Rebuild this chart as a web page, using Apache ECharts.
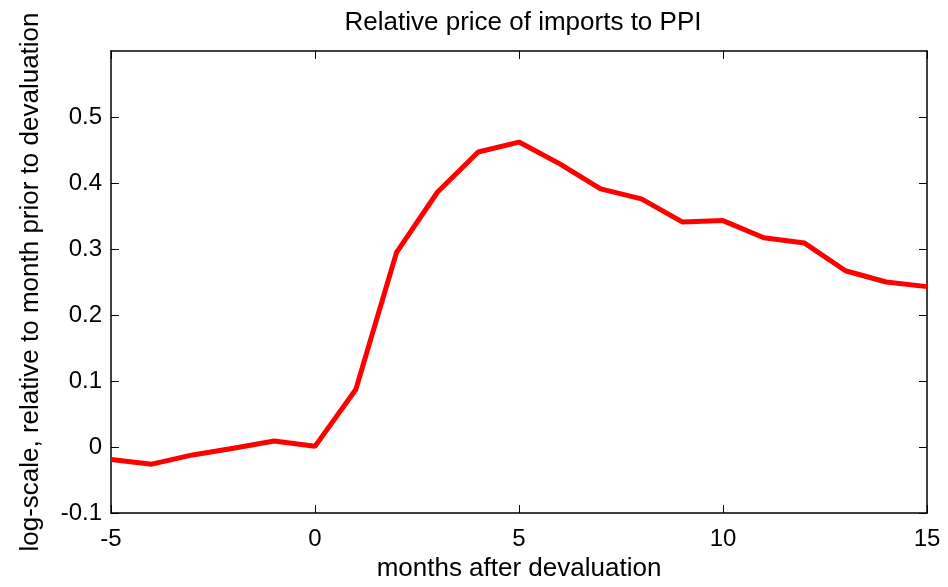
<!DOCTYPE html>
<html>
<head>
<meta charset="utf-8">
<script src="https://cdn.jsdelivr.net/npm/echarts@6/dist/echarts.min.js"></script>
<style>
  html, body { margin: 0; padding: 0; background: #fff; }
  #chart { width: 948px; height: 587px; }
</style>
</head>
<body>
<div id="chart"></div>
<script>
// months after devaluation
const months = [-5, -4, -3, -2, -1, 0, 1, 2, 3, 4, 5, 6, 7, 8, 9, 10, 11, 12, 13, 14, 15]
// relative price of imports to PPI (log-scale)
const relPrice = [-0.019, -0.026, -0.012, -0.002, 0.009, 0.001, 0.087, 0.295, 0.386, 0.447, 0.462,
  0.429, 0.391, 0.376, 0.341, 0.343, 0.317, 0.309, 0.267, 0.250, 0.243]
const xTicks = [-5, 0, 5, 10, 15]
const yTicks = [-0.1, 0, 0.1, 0.2, 0.3, 0.4, 0.5]

const font = 'Liberation Sans, Arial, Helvetica, sans-serif'
const axisLine = { show: true, onZero: false, lineStyle: { color: '#000', width: 1.5 } }
const tick = (vals) => ({ show: true, inside: true, length: 8, customValues: vals, lineStyle: { color: '#000', width: 1 } })

const chart = echarts.init(document.getElementById('chart'))
chart.setOption({
  animation: false,
  title: {
    text: 'Relative price of imports to PPI',
    left: 518, top: 5, textAlign: 'center',
    textStyle: { fontFamily: font, fontSize: 26, fontWeight: 'normal', color: '#000' }
  },
  grid: { left: 111, right: 21, top: 51, bottom: 74 },
  xAxis: [{
    type: 'value', min: -5, max: 15, interval: 5,
    name: 'months after devaluation', nameLocation: 'middle', nameGap: 41,
    nameTextStyle: { fontFamily: font, fontSize: 26, color: '#000' },
    axisLine, axisTick: tick(xTicks), splitLine: { show: false },
    axisLabel: { customValues: xTicks, fontFamily: font, fontSize: 24, color: '#000', margin: 14 }
  }, {
    type: 'value', min: -5, max: 15, interval: 5, position: 'top',
    axisLine, axisTick: tick(xTicks), splitLine: { show: false }, axisLabel: { show: false }
  }],
  yAxis: [{
    type: 'value', min: -0.1, max: 0.6, interval: 0.1,
    name: 'log-scale, relative to month prior to devaluation', nameLocation: 'middle', nameGap: 67,
    nameTextStyle: { fontFamily: font, fontSize: 26, color: '#000' },
    axisLine, axisTick: tick(yTicks), splitLine: { show: false },
    axisLabel: { customValues: yTicks, fontFamily: font, fontSize: 24, color: '#000', margin: 9,
      formatter: v => String(Math.round(v * 10) / 10) }
  }, {
    type: 'value', min: -0.1, max: 0.6, interval: 0.1, position: 'right',
    axisLine, axisTick: tick(yTicks), splitLine: { show: false }, axisLabel: { show: false }
  }],
  series: [{
    type: 'line',
    data: months.map((m, i) => [m, relPrice[i]]),
    symbol: 'none',
    lineStyle: { color: '#ff0000', width: 5 }
  }]
})
</script>
</body>
</html>
